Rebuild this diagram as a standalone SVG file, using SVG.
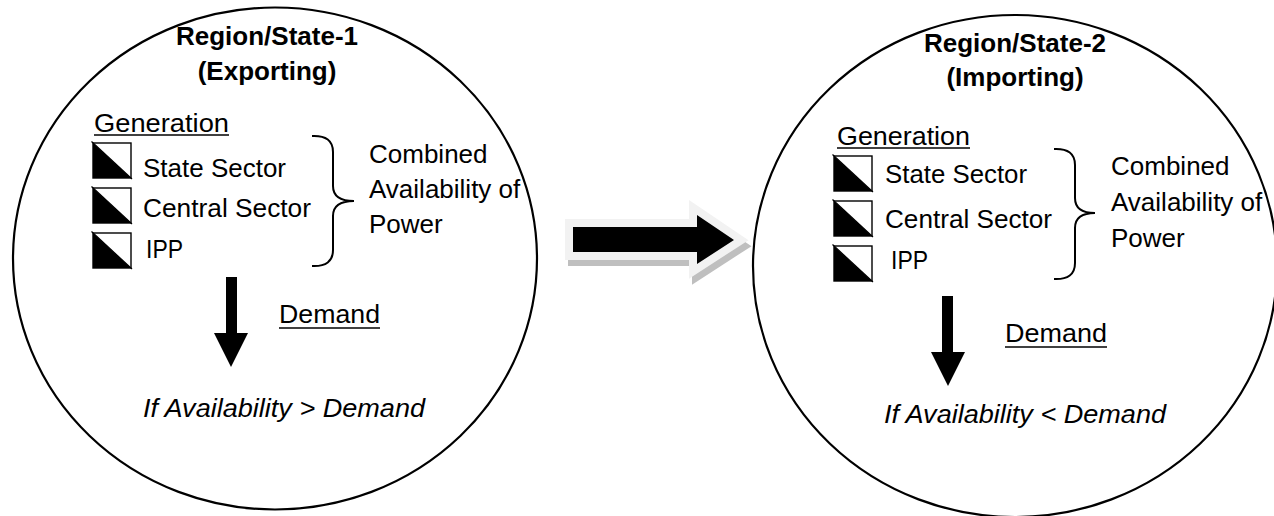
<svg xmlns="http://www.w3.org/2000/svg" xmlns:xlink="http://www.w3.org/1999/xlink" width="1274" height="516" viewBox="0 0 1274 516">
<style>
text{font-family:"Liberation Sans",Arial,sans-serif;font-size:26px;fill:#000}
.b{font-weight:bold}
.i{font-style:italic}
.c{text-anchor:middle}
.ring{fill:none;stroke:#000;stroke-width:2.2}
.ul{stroke:#000;stroke-width:1.6}
.brace{fill:none;stroke:#000;stroke-width:2}
</style>
<defs>
<g id="chk">
<rect x="0" y="0" width="38" height="35" fill="#fff" stroke="#000" stroke-width="1.4"/>
<polygon points="0,0 0,35 38,35" fill="#000"/>
<line x1="-1.5" y1="-1.5" x2="39" y2="36" stroke="#000" stroke-width="1.2"/>
</g>
</defs>
<rect width="1274" height="516" fill="#fff"/>

<g id="region1">
<ellipse class="ring" cx="275" cy="258.5" rx="262" ry="251"/>
<text class="b c" x="267" y="45">Region/State-1</text>
<text class="b c" x="267" y="80">(Exporting)</text>
<text x="94" y="132" textLength="135" lengthAdjust="spacingAndGlyphs">Generation</text>
<line class="ul" x1="94" y1="135" x2="229" y2="135"/>
<use xlink:href="#chk" x="93" y="143"/>
<use xlink:href="#chk" x="93" y="188"/>
<use xlink:href="#chk" x="93" y="233"/>
<text x="143" y="177" textLength="143" lengthAdjust="spacingAndGlyphs">State Sector</text>
<text x="143" y="217" textLength="168" lengthAdjust="spacingAndGlyphs">Central Sector</text>
<text x="146" y="258" textLength="37" lengthAdjust="spacingAndGlyphs">IPP</text>
<path class="brace" d="M312,136 Q333,135 333,152 L333,186 Q333,201 354,201 Q333,201 333,216 L333,250 Q333,267 312,266"/>
<text x="369" y="163">Combined</text>
<text x="369" y="198">Availability of</text>
<text x="369" y="233">Power</text>
<polygon points="226,277 237,277 237,333 248,333 231,367 214,333 226,333" fill="#000"/>
<text x="279" y="323" textLength="101" lengthAdjust="spacingAndGlyphs">Demand</text>
<line class="ul" x1="279" y1="328" x2="380" y2="328"/>
<text class="i" x="143" y="417" textLength="282" lengthAdjust="spacingAndGlyphs">If Availability &gt; Demand</text>
</g>

<g id="region2">
<ellipse class="ring" cx="1015" cy="266" rx="262" ry="251"/>
<text class="b c" x="1015" y="52">Region/State-2</text>
<text class="b c" x="1015" y="86">(Importing)</text>
<text x="837" y="145" textLength="133" lengthAdjust="spacingAndGlyphs">Generation</text>
<line class="ul" x1="837" y1="148" x2="970" y2="148"/>
<use xlink:href="#chk" x="834" y="156"/>
<use xlink:href="#chk" x="834" y="201"/>
<use xlink:href="#chk" x="834" y="246"/>
<text x="885" y="183" textLength="142" lengthAdjust="spacingAndGlyphs">State Sector</text>
<text x="885" y="228" textLength="167" lengthAdjust="spacingAndGlyphs">Central Sector</text>
<text x="891" y="269" textLength="37" lengthAdjust="spacingAndGlyphs">IPP</text>
<path class="brace" d="M1054,149 Q1075,148 1075,165 L1075,198 Q1075,213 1095,213 Q1075,213 1075,228 L1075,263 Q1075,280 1054,279"/>
<text x="1111" y="175">Combined</text>
<text x="1111" y="211">Availability of</text>
<text x="1111" y="247">Power</text>
<polygon points="942,296 953,296 953,352 965,352 948,386 931,352 942,352" fill="#000"/>
<text x="1005" y="342" textLength="102" lengthAdjust="spacingAndGlyphs">Demand</text>
<line class="ul" x1="1005" y1="347" x2="1107" y2="347"/>
<text class="i" x="884" y="423" textLength="282" lengthAdjust="spacingAndGlyphs">If Availability &lt; Demand</text>
</g>

<g id="connectors">
<path d="M573,227 L697,227 L697,215 L734,240 L697,264 L697,252 L573,252 Z" transform="translate(3,6)" fill="#bfbfbf" stroke="#bfbfbf" stroke-width="16" stroke-linejoin="miter" stroke-miterlimit="10"/>
<path d="M573,227 L697,227 L697,215 L734,240 L697,264 L697,252 L573,252 Z" fill="#000" stroke="#f2f2f2" stroke-width="16" stroke-linejoin="miter" stroke-miterlimit="10"/>
<path d="M573,227 L697,227 L697,215 L734,240 L697,264 L697,252 L573,252 Z" fill="#000"/>
</g>
</svg>
